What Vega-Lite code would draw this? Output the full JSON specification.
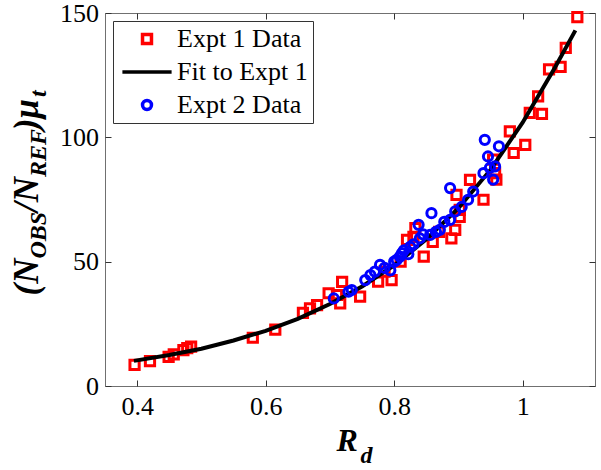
{
  "$schema": "https://vega.github.io/schema/vega-lite/v6.json",
  "width": 490,
  "height": 373,
  "autosize": {"type": "none"},
  "padding": {"left": 105, "top": 13, "right": 6, "bottom": 84},
  "background": "white",
  "config": {
    "view": {"stroke": "#707070", "strokeWidth": 1},
    "font": "Liberation Serif",
    "axis": {
      "grid": false,
      "domain": false,
      "labelFont": "Liberation Serif",
      "labelFontSize": 26,
      "labelColor": "#000000",
      "tickColor": "#333333",
      "tickWidth": 1,
      "tickSize": -6,
      "titleFont": "Liberation Serif",
      "titleFontWeight": "bold",
      "titleFontStyle": "italic",
      "titleColor": "#000000",
      "titleAlign": "left",
      "titleBaseline": "alphabetic",
      "titlePadding": 0
    }
  },
  "data": {
    "values": [
      {"s": "Expt 1 Data", "Rd": 0.396, "N": 8.5},
      {"s": "Expt 1 Data", "Rd": 0.42, "N": 10},
      {"s": "Expt 1 Data", "Rd": 0.449, "N": 11.7},
      {"s": "Expt 1 Data", "Rd": 0.457, "N": 12.7},
      {"s": "Expt 1 Data", "Rd": 0.472, "N": 14.4},
      {"s": "Expt 1 Data", "Rd": 0.478, "N": 15.2},
      {"s": "Expt 1 Data", "Rd": 0.484, "N": 15.8},
      {"s": "Expt 1 Data", "Rd": 0.58, "N": 19.4},
      {"s": "Expt 1 Data", "Rd": 0.615, "N": 22.7},
      {"s": "Expt 1 Data", "Rd": 0.658, "N": 29.4},
      {"s": "Expt 1 Data", "Rd": 0.669, "N": 31.2},
      {"s": "Expt 1 Data", "Rd": 0.68, "N": 32.5},
      {"s": "Expt 1 Data", "Rd": 0.698, "N": 37.3},
      {"s": "Expt 1 Data", "Rd": 0.711, "N": 36.6},
      {"s": "Expt 1 Data", "Rd": 0.716, "N": 33.2},
      {"s": "Expt 1 Data", "Rd": 0.719, "N": 41.9},
      {"s": "Expt 1 Data", "Rd": 0.747, "N": 35.9},
      {"s": "Expt 1 Data", "Rd": 0.775, "N": 42},
      {"s": "Expt 1 Data", "Rd": 0.785, "N": 46},
      {"s": "Expt 1 Data", "Rd": 0.796, "N": 42.6},
      {"s": "Expt 1 Data", "Rd": 0.81, "N": 50},
      {"s": "Expt 1 Data", "Rd": 0.82, "N": 58.8},
      {"s": "Expt 1 Data", "Rd": 0.83, "N": 60},
      {"s": "Expt 1 Data", "Rd": 0.833, "N": 63.5},
      {"s": "Expt 1 Data", "Rd": 0.846, "N": 52},
      {"s": "Expt 1 Data", "Rd": 0.86, "N": 58},
      {"s": "Expt 1 Data", "Rd": 0.87, "N": 62},
      {"s": "Expt 1 Data", "Rd": 0.889, "N": 59.4},
      {"s": "Expt 1 Data", "Rd": 0.895, "N": 62.8},
      {"s": "Expt 1 Data", "Rd": 0.902, "N": 68},
      {"s": "Expt 1 Data", "Rd": 0.902, "N": 70.8},
      {"s": "Expt 1 Data", "Rd": 0.897, "N": 76.9},
      {"s": "Expt 1 Data", "Rd": 0.918, "N": 82.9},
      {"s": "Expt 1 Data", "Rd": 0.939, "N": 74.9},
      {"s": "Expt 1 Data", "Rd": 0.954, "N": 91},
      {"s": "Expt 1 Data", "Rd": 0.957, "N": 85.6},
      {"s": "Expt 1 Data", "Rd": 0.959, "N": 83},
      {"s": "Expt 1 Data", "Rd": 0.98, "N": 102.4},
      {"s": "Expt 1 Data", "Rd": 0.986, "N": 93.7},
      {"s": "Expt 1 Data", "Rd": 1.004, "N": 97},
      {"s": "Expt 1 Data", "Rd": 1.011, "N": 109.8},
      {"s": "Expt 1 Data", "Rd": 1.03, "N": 109.4},
      {"s": "Expt 1 Data", "Rd": 1.024, "N": 116.5},
      {"s": "Expt 1 Data", "Rd": 1.041, "N": 127.3},
      {"s": "Expt 1 Data", "Rd": 1.059, "N": 128.3},
      {"s": "Expt 1 Data", "Rd": 1.067, "N": 136},
      {"s": "Expt 1 Data", "Rd": 1.085, "N": 148.3},
      {"s": "Fit to Expt 1", "Rd": 0.395, "N": 10.1},
      {"s": "Fit to Expt 1", "Rd": 0.45, "N": 12.5},
      {"s": "Fit to Expt 1", "Rd": 0.5, "N": 15},
      {"s": "Fit to Expt 1", "Rd": 0.55, "N": 18.3},
      {"s": "Fit to Expt 1", "Rd": 0.6, "N": 22.2},
      {"s": "Fit to Expt 1", "Rd": 0.65, "N": 27},
      {"s": "Fit to Expt 1", "Rd": 0.7, "N": 33},
      {"s": "Fit to Expt 1", "Rd": 0.75, "N": 40},
      {"s": "Fit to Expt 1", "Rd": 0.8, "N": 48.5},
      {"s": "Fit to Expt 1", "Rd": 0.85, "N": 59},
      {"s": "Fit to Expt 1", "Rd": 0.9, "N": 71.5},
      {"s": "Fit to Expt 1", "Rd": 0.95, "N": 87},
      {"s": "Fit to Expt 1", "Rd": 1.0, "N": 106},
      {"s": "Fit to Expt 1", "Rd": 1.05, "N": 128},
      {"s": "Fit to Expt 1", "Rd": 1.082, "N": 143},
      {"s": "Expt 2 Data", "Rd": 0.706, "N": 35.2},
      {"s": "Expt 2 Data", "Rd": 0.729, "N": 37.9},
      {"s": "Expt 2 Data", "Rd": 0.734, "N": 38.6},
      {"s": "Expt 2 Data", "Rd": 0.755, "N": 42.6},
      {"s": "Expt 2 Data", "Rd": 0.763, "N": 44.6},
      {"s": "Expt 2 Data", "Rd": 0.77, "N": 46},
      {"s": "Expt 2 Data", "Rd": 0.778, "N": 48.7},
      {"s": "Expt 2 Data", "Rd": 0.785, "N": 47.5},
      {"s": "Expt 2 Data", "Rd": 0.794, "N": 46.5},
      {"s": "Expt 2 Data", "Rd": 0.8, "N": 50},
      {"s": "Expt 2 Data", "Rd": 0.804, "N": 50.7},
      {"s": "Expt 2 Data", "Rd": 0.809, "N": 52},
      {"s": "Expt 2 Data", "Rd": 0.812, "N": 53.4},
      {"s": "Expt 2 Data", "Rd": 0.815, "N": 54.5},
      {"s": "Expt 2 Data", "Rd": 0.825, "N": 56},
      {"s": "Expt 2 Data", "Rd": 0.822, "N": 53},
      {"s": "Expt 2 Data", "Rd": 0.83, "N": 57},
      {"s": "Expt 2 Data", "Rd": 0.84, "N": 59.4},
      {"s": "Expt 2 Data", "Rd": 0.838, "N": 64.8},
      {"s": "Expt 2 Data", "Rd": 0.845, "N": 61},
      {"s": "Expt 2 Data", "Rd": 0.856, "N": 60.8},
      {"s": "Expt 2 Data", "Rd": 0.858, "N": 69.5},
      {"s": "Expt 2 Data", "Rd": 0.865, "N": 62},
      {"s": "Expt 2 Data", "Rd": 0.871, "N": 62.8},
      {"s": "Expt 2 Data", "Rd": 0.878, "N": 66},
      {"s": "Expt 2 Data", "Rd": 0.887, "N": 66.8},
      {"s": "Expt 2 Data", "Rd": 0.887, "N": 79.6},
      {"s": "Expt 2 Data", "Rd": 0.895, "N": 70.2},
      {"s": "Expt 2 Data", "Rd": 0.905, "N": 72},
      {"s": "Expt 2 Data", "Rd": 0.915, "N": 74.9},
      {"s": "Expt 2 Data", "Rd": 0.923, "N": 78.2},
      {"s": "Expt 2 Data", "Rd": 0.939, "N": 85.6},
      {"s": "Expt 2 Data", "Rd": 0.941, "N": 99},
      {"s": "Expt 2 Data", "Rd": 0.946, "N": 92.3},
      {"s": "Expt 2 Data", "Rd": 0.949, "N": 87.7},
      {"s": "Expt 2 Data", "Rd": 0.954, "N": 83},
      {"s": "Expt 2 Data", "Rd": 0.957, "N": 88.3},
      {"s": "Expt 2 Data", "Rd": 0.963, "N": 96.4}
    ]
  },
  "layer": [
    {
      "transform": [{"filter": "datum.s == 'Expt 1 Data'"}],
      "mark": {"type": "point", "filled": false, "strokeWidth": 3, "size": 85, "opacity": 1},
      "encoding": {
        "x": {
          "field": "Rd", "type": "quantitative",
          "scale": {"domain": [0.35, 1.1125], "nice": false, "zero": false},
          "axis": {
            "orient": "bottom", "values": [0.4, 0.6, 0.8, 1], "format": "~g",
            "labelPadding": 13,
            "title": "R", "titleFontSize": 32, "titleAngle": 0,
            "titleX": 231, "titleY": 64
          }
        },
        "y": {
          "field": "N", "type": "quantitative",
          "scale": {"domain": [0, 150], "nice": false, "zero": true},
          "axis": {
            "orient": "left", "values": [0, 50, 100, 150],
            "labelPadding": 12.5,
            "title": "(N\u2003\u2004/N\u2003\u2004)\u03bc", "titleFontSize": 35, "titleAngle": 270,
            "titleX": -68, "titleY": 282
          }
        },
        "color": {
          "field": "s", "type": "nominal",
          "scale": {"domain": ["Expt 1 Data", "Fit to Expt 1", "Expt 2 Data"], "range": ["#ff0000", "#000000", "#0000ff"]},
          "legend": {
            "title": null, "orient": "top-left", "offset": 8,
            "labelFont": "Liberation Serif", "labelFontSize": 26, "labelColor": "#000000",
            "strokeColor": "#333333", "fillColor": "#ffffff",
            "padding": 5, "rowPadding": 7,
            "symbolStrokeWidth": 3.5, "symbolSize": 80,
            "symbolOffset": 16, "labelOffset": 17
          }
        },
        "shape": {
          "field": "s", "type": "nominal",
          "scale": {"domain": ["Expt 1 Data", "Fit to Expt 1", "Expt 2 Data"], "range": ["square", "M-5.5,0H5.5", "circle"]}
        }
      }
    },
    {
      "transform": [{"filter": "datum.s == 'Fit to Expt 1'"}],
      "mark": {"type": "line", "strokeWidth": 4},
      "encoding": {
        "x": {
          "field": "Rd", "type": "quantitative",
          "axis": {
            "orient": "top", "ticks": false, "labels": false,
            "title": "t", "titleFontSize": 24, "titleAngle": 270,
            "titleX": -60, "titleY": 83.5
          }
        },
        "y": {
          "field": "N", "type": "quantitative",
          "axis": {
            "orient": "right", "ticks": false, "labels": false,
            "title": "REF", "titleFontSize": 24, "titleAngle": 270,
            "titleX": -550, "titleY": 163.4
          }
        },
        "color": {"field": "s", "type": "nominal"}
      }
    },
    {
      "transform": [{"filter": "datum.s == 'Expt 2 Data'"}],
      "mark": {"type": "point", "filled": false, "strokeWidth": 3, "size": 85, "opacity": 1},
      "encoding": {
        "x": {
          "field": "Rd", "type": "quantitative",
          "axis": {
            "orient": "top", "values": [0.4, 0.6, 0.8, 1], "labels": false,
            "title": "d", "titleFontSize": 24, "titleAngle": 0,
            "titleX": 255, "titleY": 449
          }
        },
        "y": {
          "field": "N", "type": "quantitative",
          "axis": {
            "orient": "right", "values": [0, 50, 100, 150], "labels": false,
            "title": "OBS", "titleFontSize": 24, "titleAngle": 270,
            "titleX": -550, "titleY": 245
          }
        },
        "color": {"field": "s", "type": "nominal"},
        "shape": {"field": "s", "type": "nominal"}
      }
    }
  ],
  "resolve": {"axis": {"x": "independent", "y": "independent"}}
}
